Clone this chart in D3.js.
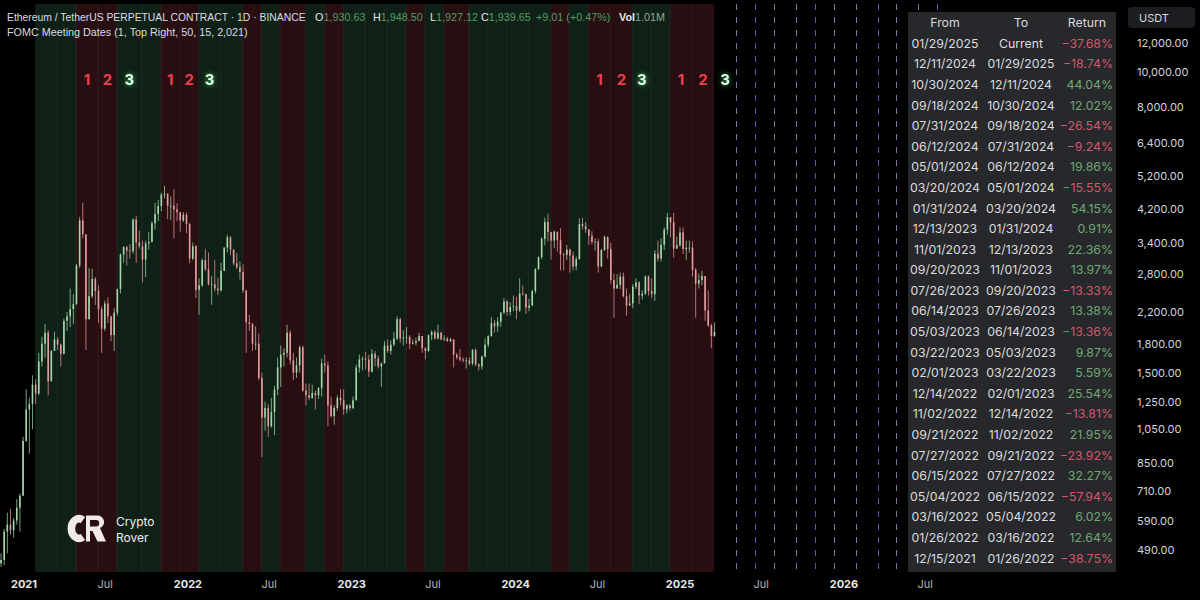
<!DOCTYPE html>
<html><head><meta charset="utf-8">
<script src="https://cdn.jsdelivr.net/npm/d3@7"></script>
<style>
html,body{margin:0;padding:0;background:#000;}
svg{display:block;font-family:Inter,Roboto,"Noto Sans",sans-serif;}
</style>
</head><body>
<svg id="chart" width="1200" height="600"></svg>
<script>
// ---------------- DATA ----------------
const seriesStart = "2020-11-09";   // Monday of first weekly candle
const firstOpen = 450;
const close2020 = [460,550,575,555,590,640,690,975];
const high2020  = [480,560,620,635,600,675,700,1000];
const low2020   = [440,445,480,540,530,575,550,690];
const close2021 = [1190,1230,1390,1315,1610,1800,1930,1420,1720,1850,1790,1690,2080,2140,2240,2310,2950,3920,3590,2100,2430,2710,2510,2240,1980,2320,2140,1900,2190,2540,3160,3310,3240,3230,3940,3410,3330,3060,3390,3420,3850,4080,4290,4610,4640,4300,4300,4200,4130,3920,4060,3830];
const high2021  = [1350,1280,1475,1440,1700,1880,2040,1960,1730,1940,1880,1800,2110,2200,2550,2460,2980,4000,4380,3590,2900,2890,2740,2600,2280,2360,2410,2130,2250,2550,3180,3330,3340,3380,3970,4030,3670,3450,3450,3650,3900,4380,4460,4670,4870,4640,4560,4780,4370,4090,4130,4120];
const low2021   = [970,900,1050,1230,1300,1560,1650,1300,1440,1730,1730,1560,1680,1950,2000,2040,2300,2900,3500,1730,2100,2400,2300,2050,1700,1950,2050,1830,1720,2150,2470,3000,2950,3080,3180,3000,3280,2650,2740,3260,3410,3700,3900,4150,4500,3950,3920,3500,3900,3650,3880,3620];
const close2022 = [3080,3330,2530,2600,3050,2880,2620,2620,2550,2520,2850,3300,3520,3260,2990,2920,2830,2520,2060,2040,1800,1800,1450,1130,1200,1070,1170,1350,1550,1680,1700,1930,1620,1500,1570,1760,1340,1300,1280,1320,1300,1360,1590,1570,1220,1140,1200,1280,1260,1190,1220,1200];
const high2022  = [3860,3410,3360,2720,3080,3280,3200,2760,3050,2730,3000,3310,3580,3550,3200,3190,3030,2970,2520,2160,2050,2010,1920,1500,1250,1230,1280,1380,1650,1780,1750,2030,1960,1700,1650,1780,1780,1400,1400,1390,1340,1370,1640,1680,1610,1290,1220,1300,1350,1350,1230,1230];
const low2022   = [2990,3050,2400,2160,2580,2850,2600,2300,2500,2450,2500,2880,3200,3150,2950,2880,2700,2480,1700,1950,1720,1730,1430,880,1040,1000,1060,1010,1300,1370,1560,1650,1580,1430,1450,1500,1330,1220,1260,1270,1190,1270,1290,1500,1070,1130,1080,1180,1220,1150,1160,1180];
const close2023 = [1260,1550,1630,1640,1630,1510,1690,1640,1560,1590,1780,1720,1790,1860,2100,1860,1870,1880,1800,1810,1830,1890,1750,1720,1900,1940,1860,1930,1850,1860,1830,1850,1680,1650,1630,1620,1620,1590,1730,1580,1560,1660,1790,1890,2050,2010,2070,2190,2350,2200,2270,2280];
const high2023  = [1290,1580,1680,1660,1710,1680,1740,1720,1670,1600,1830,1850,1840,1940,2140,2120,1960,2000,1900,1850,1870,1930,1890,1760,1910,1960,1960,2030,1940,1900,1880,1870,1850,1700,1740,1650,1650,1650,1740,1750,1590,1670,1860,1900,2130,2090,2130,2200,2400,2370,2340,2440];
const low2023   = [1190,1260,1500,1520,1530,1460,1500,1560,1540,1370,1590,1700,1680,1770,1840,1810,1780,1800,1740,1790,1780,1830,1700,1630,1710,1840,1850,1850,1840,1830,1820,1820,1550,1630,1610,1600,1540,1570,1570,1560,1520,1530,1650,1760,1880,1930,1940,2000,2170,2150,2150,2210];
const close2024 = [2220,2470,2460,2260,2290,2510,2880,3110,3490,3880,3640,3450,3650,3460,3160,3150,3260,3140,2930,3070,3830,3780,3700,3560,3420,3430,2930,3250,3530,3270,2690,2550,2610,2750,2430,2290,2320,2580,2650,2440,2470,2750,2510,2460,3180,3080,3360,3700,4000,3870,3280,3350,3630];
const high2024  = [2420,2720,2600,2470,2390,2530,2900,3120,3520,3990,4090,3650,3680,3650,3730,3200,3360,3280,3220,3120,3970,3980,3880,3710,3660,3500,3490,3270,3560,3540,3400,2800,2790,2820,2820,2550,2460,2620,2720,2670,2520,2770,2770,2720,3250,3450,3500,3750,4110,4000,4110,3540,3750];
const low2024   = [2100,2200,2440,2170,2210,2290,2470,2870,3070,3350,3430,3060,3290,3220,2860,2860,3050,2820,2860,2860,3060,3700,3620,3360,3360,3240,2820,2920,3230,3080,2630,2120,2560,2540,2410,2150,2290,2250,2540,2310,2380,2450,2440,2400,2360,3020,3020,3250,3580,3520,3100,3300,3320];
const close2025 = [3270,3300,3300,2870,2630,2690,2760,2220,2020,1890,1940];
const high2025  = [3740,3450,3450,3430,2900,2800,2850,2760,2520,2040,2060];
const low2025   = [3170,3050,3200,2750,2120,2550,2600,2080,2000,1750,1880];

// FOMC meetings of 2021 before the table starts, and their estimated period returns (%)
const fomc2021 = ["01/27/2021","03/17/2021","04/28/2021","06/16/2021","07/28/2021","09/22/2021","11/03/2021"];
const returns2021 = [36, 52, -14, -3, 34, 49, -13];
// Upcoming meetings (dashed lines)
const fomcFuture = ["03/19/2025","05/07/2025","06/18/2025","07/30/2025","09/17/2025","10/29/2025","12/10/2025","01/28/2026","03/18/2026","04/29/2026","06/17/2026","07/29/2026"];

// Table
const tableFrom = ["01/29/2025","12/11/2024","10/30/2024","09/18/2024","07/31/2024","06/12/2024","05/01/2024","03/20/2024","01/31/2024","12/13/2023","11/01/2023","09/20/2023","07/26/2023","06/14/2023","05/03/2023","03/22/2023","02/01/2023","12/14/2022","11/02/2022","09/21/2022","07/27/2022","06/15/2022","05/04/2022","03/16/2022","01/26/2022","12/15/2021"];
const tableTo = ["Current","01/29/2025","12/11/2024","10/30/2024","09/18/2024","07/31/2024","06/12/2024","05/01/2024","03/20/2024","01/31/2024","12/13/2023","11/01/2023","09/20/2023","07/26/2023","06/14/2023","05/03/2023","03/22/2023","02/01/2023","12/14/2022","11/02/2022","09/21/2022","07/27/2022","06/15/2022","05/04/2022","03/16/2022","01/26/2022"];
const tableReturn = [-37.68,-18.74,44.04,12.02,-26.54,-9.24,19.86,-15.55,54.15,0.91,22.36,13.97,-13.33,13.38,-13.36,9.87,5.59,25.54,-13.81,21.95,-23.92,32.27,-57.94,6.02,12.64,-38.75];

const priceTicks = [12000,10000,8000,6400,5200,4200,3400,2800,2200,1800,1500,1250,1050,850,710,590,490];
const timeTicks = ["2021-01-01","2021-07-01","2022-01-01","2022-07-01","2023-01-01","2023-07-01","2024-01-01","2024-07-01","2025-01-01","2025-07-01","2026-01-01","2026-07-01"];

const headerTitle = "Ethereum / TetherUS PERPETUAL CONTRACT · 1D · BINANCE";
const headerOHLC = [["O","1,930.63"],["H","1,948.50"],["L","1,927.12"],["C","1,939.65"]];
const headerChange = "+9.01 (+0.47%)";
const headerVol = "1.01M";
const indicatorTitle = "FOMC Meeting Dates (1, Top Right, 50, 15, 2,021)";

// ---------------- BUILD ----------------
const svg = d3.select("#chart");
const parseISO = d3.timeParse("%Y-%m-%d");
const parseUS = d3.timeParse("%m/%d/%Y");

const x = d3.scaleTime().domain([new Date(2021,0,1), new Date(2026,0,1)]).range([23.5, 843.4]);
const y = d3.scaleLog().domain([490, 12000]).range([550, 43]);
const TOP = 4, BOT = 572;

const C = close2020.concat(close2021, close2022, close2023, close2024, close2025);
const H = high2020.concat(high2021, high2022, high2023, high2024, high2025);
const L = low2020.concat(low2021, low2022, low2023, low2024, low2025);
const start = parseISO(seriesStart);
const candles = C.map((c,i)=>{
  const o = i===0 ? firstOpen : C[i-1];
  return {date: d3.timeDay.offset(start, 7*i + 3), o, c, h: Math.max(H[i],o,c), l: Math.min(L[i],o,c)};
});

// bands
const fomcDates = fomc2021.concat(tableFrom.slice().reverse()).map(parseUS);
const rets = returns2021.concat(tableReturn.slice().reverse());
const future = fomcFuture.map(parseUS);
const bands = fomcDates.map((d,i)=>({start:d, end: i<fomcDates.length-1 ? fomcDates[i+1] : future[0], ret: rets[i]}));
const allBands = bands.concat([{start: future[0], end: future[1], ret: null}]);

const defs = svg.append("defs");
const f = defs.append("filter").attr("id","glow").attr("x","-100%").attr("y","-100%").attr("width","300%").attr("height","300%");
f.append("feGaussianBlur").attr("in","SourceAlpha").attr("stdDeviation",2.6).attr("result","b");
f.append("feFlood").attr("flood-color","#3fe070").attr("flood-opacity",0.9);
f.append("feComposite").attr("in2","b").attr("operator","in").attr("result","g");
const fm = f.append("feMerge");
fm.append("feMergeNode").attr("in","g");
fm.append("feMergeNode").attr("in","SourceGraphic");

// band rects
svg.append("g").selectAll("rect").data(bands).join("rect")
  .attr("x", d=>x(d.start)).attr("y", TOP)
  .attr("width", d=>x(d.end)-x(d.start)).attr("height", BOT-TOP)
  .attr("fill", d=>d.ret>=0 ? "#0f2016" : "#280e11");
// boundary lines
svg.append("g").selectAll("line").data(fomcDates.slice(1)).join("line")
  .attr("x1", d=>x(d)).attr("x2", d=>x(d)).attr("y1", TOP).attr("y2", BOT)
  .attr("stroke","#ffffff").attr("stroke-opacity",0.07).attr("stroke-width",1);

// future dashed lines
svg.append("g").selectAll("line").data(future.slice(1)).join("line")
  .attr("x1", d=>Math.round(x(d))+0.5).attr("x2", d=>Math.round(x(d))+0.5).attr("y1", TOP).attr("y2", BOT)
  .attr("stroke", (d,i)=> i%3===1 ? "#6d63e0" : "#8f8fc0")
  .attr("stroke-opacity",0.85)
  .attr("stroke-dasharray","6,7").attr("stroke-width",1);

// candles
const cg = svg.append("g");
cg.selectAll("line").data(candles).join("line")
  .attr("x1", d=>x(d.date)).attr("x2", d=>x(d.date))
  .attr("y1", d=>y(d.h)).attr("y2", d=>y(d.l))
  .attr("stroke", d=>d.c>=d.o ? "#93c99c" : "#dc8c92").attr("stroke-width",0.8);
cg.selectAll("rect").data(candles).join("rect")
  .attr("x", d=>x(d.date)-0.8).attr("width",1.6)
  .attr("y", d=>y(Math.max(d.o,d.c)))
  .attr("height", d=>Math.max(0.8, Math.abs(y(d.o)-y(d.c))))
  .attr("fill", d=>d.c>=d.o ? "#a6d6aa" : "#e39ca0");

// 1 2 3 labels
const marks = [];
for (let i=0;i<bands.length-1;i++){
  if (allBands[i].ret<0 && allBands[i+1].ret<0 && !(i>0 && allBands[i-1].ret<0)){
    marks.push({b:allBands[i], t:"1"},{b:allBands[i+1], t:"2"},{b:allBands[i+2], t:"3"});
  }
}
svg.append("g").selectAll("text").data(marks).join("text")
  .attr("x", d=>(x(d.b.start)+x(d.b.end))/2).attr("y", 85)
  .attr("text-anchor","middle").attr("font-size",15).attr("font-weight",700)
  .attr("fill", d=>d.t==="3" ? "#eafff0" : "#e8404f")
  .attr("filter", d=>d.t==="3" ? "url(#glow)" : null)
  .text(d=>d.t);

// header
const hdr = svg.append("g").attr("font-family","'Liberation Sans',Arial,sans-serif");
function fit(t, w){
  t.attr("font-size", 12);
  const n = t.node().getComputedTextLength();
  t.attr("font-size", Math.min(12, 12*w/n));
}
fit(hdr.append("text").attr("x",7).attr("y",21).attr("fill","#d9dce3").text(headerTitle), 299);
const segX = [315,373,430,481];
headerOHLC.forEach((p,i)=>{
  const t = hdr.append("text").attr("x",segX[i]).attr("y",21).attr("font-size",10.8);
  t.append("tspan").attr("fill","#e6e8ee").text(p[0]);
  t.append("tspan").attr("fill","#4f9d68").text(p[1]);
});
hdr.append("text").attr("x",536).attr("y",21).attr("font-size",10.8).attr("fill","#4f9d68").text(headerChange);
const vt = hdr.append("text").attr("x",619).attr("y",21).attr("font-size",10.8);
vt.append("tspan").attr("fill","#e6e8ee").attr("font-weight",700).text("Vol");
vt.append("tspan").attr("fill","#8fa896").text(headerVol);
fit(hdr.append("text").attr("x",7).attr("y",36).attr("fill","#d9dce3").text(indicatorTitle), 241);

// logo
const logo = svg.append("g");
logo.append("path").attr("d","M83,520 A7.8,9.8 0 1 0 83,537").attr("fill","none")
  .attr("stroke","#f1e9ea").attr("stroke-width",7.5);
logo.append("path").attr("d","M86,515.5 H97 A6.5,6.5 0 0 1 100,528 L106,541.5 H97.5 L92.5,531 H90 V541.5 H86 Z M90,520 V526.5 H96 A3.2,3.2 0 0 0 96,520 Z")
  .attr("fill","#f1e9ea").attr("fill-rule","evenodd");
logo.append("text").attr("x",116).attr("y",526).attr("font-size",12).attr("fill","#eeeeee").text("Crypto");
logo.append("text").attr("x",116).attr("y",542).attr("font-size",12).attr("fill","#eeeeee").text("Rover");

// table
const tb = svg.append("g").attr("font-size",12.3);
tb.append("rect").attr("x",908).attr("y",12).attr("width",208).attr("height",560).attr("fill","#27282b");
const hdrs = [["From",945],["To",1021],["Return",1087]];
tb.selectAll("text.h").data(hdrs).join("text").attr("class","h")
  .attr("x",d=>d[1]).attr("y",26.5).attr("text-anchor","middle").attr("fill","#d8d8d8").text(d=>d[0]);
const rowY = i => 43.3 + i*20.59;
const rows = tableFrom.map((f,i)=>({f, t: tableTo[i], r: tableReturn[i], i}));
tb.selectAll("text.f").data(rows).join("text").attr("class","f")
  .attr("x",945).attr("y",d=>rowY(d.i)+4.5).attr("text-anchor","middle").attr("fill","#dcdcdc").text(d=>d.f);
tb.selectAll("text.t").data(rows).join("text").attr("class","t")
  .attr("x",1021).attr("y",d=>rowY(d.i)+4.5).attr("text-anchor","middle").attr("fill","#dcdcdc").text(d=>d.t);
tb.selectAll("text.r").data(rows).join("text").attr("class","r")
  .attr("x",1113).attr("y",d=>rowY(d.i)+4.5).attr("text-anchor","end")
  .attr("fill",d=>d.r<0 ? "#d9556b" : "#6fa874").text(d=>d3.format(".2f")(d.r)+"%");

// right price axis
const ya = svg.append("g").attr("transform","translate(1133,0)")
  .call(d3.axisRight(y).tickValues(priceTicks).tickSize(0).tickPadding(4).tickFormat(d3.format(",.2f")));
ya.select(".domain").remove();
ya.selectAll("text").attr("font-size",11).attr("fill","#d1d4dc").attr("font-family","Inter,Roboto,sans-serif");
svg.append("rect").attr("x",1128).attr("y",7).attr("width",67).attr("height",21).attr("rx",4).attr("fill","#1c1d21");
svg.append("text").attr("x",1139).attr("y",21.5).attr("font-size",11).attr("fill","#d8d8d8").text("USDT");

// bottom time axis
const xa = svg.append("g").attr("transform","translate(0,577)")
  .call(d3.axisBottom(x).tickValues(timeTicks.map(parseISO)).tickSize(0).tickPadding(3)
    .tickFormat(d=> d.getMonth()===0 ? d3.timeFormat("%Y")(d) : "Jul"));
xa.select(".domain").remove();
xa.selectAll("text").attr("font-size",11).attr("font-family","Inter,Roboto,sans-serif")
  .attr("font-weight", d=>d.getMonth()===0 ? 700 : 400)
  .attr("fill", d=>d.getMonth()===0 ? "#e8e8e8" : "#b2b5be");
</script>
</body></html>
